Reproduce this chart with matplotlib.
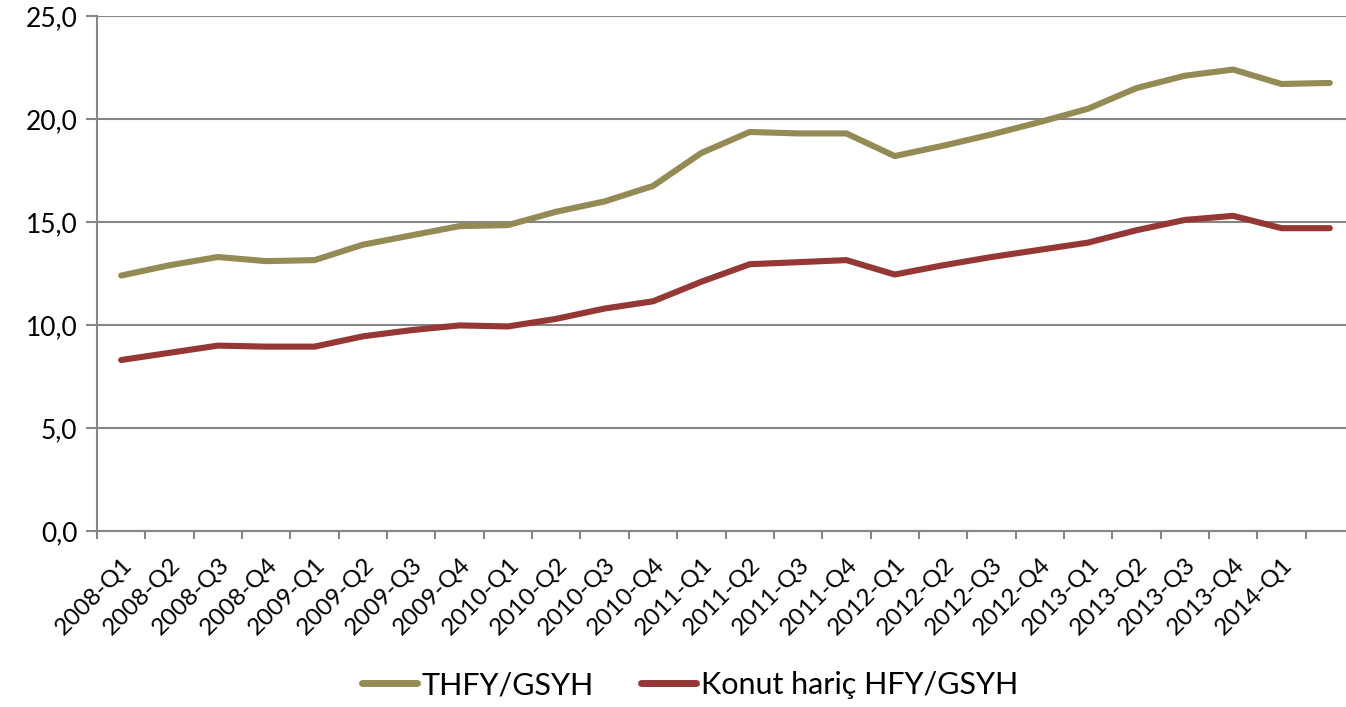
import matplotlib
matplotlib.use("Agg")
import matplotlib.pyplot as plt
import numpy as np

categories = ["2008-Q1", "2008-Q2", "2008-Q3", "2008-Q4",
              "2009-Q1", "2009-Q2", "2009-Q3", "2009-Q4",
              "2010-Q1", "2010-Q2", "2010-Q3", "2010-Q4",
              "2011-Q1", "2011-Q2", "2011-Q3", "2011-Q4",
              "2012-Q1", "2012-Q2", "2012-Q3", "2012-Q4",
              "2013-Q1", "2013-Q2", "2013-Q3", "2013-Q4",
              "2014-Q1", ""]

thfy = [12.4, 12.9, 13.3, 13.1, 13.15, 13.9, 14.35, 14.8, 14.85, 15.5, 16.0, 16.75,
        18.35, 19.37, 19.3, 19.3, 18.2, 18.7, 19.25, 19.85, 20.5, 21.5, 22.1, 22.4,
        21.7, 21.75]
konut = [8.3, 8.65, 9.0, 8.95, 8.95, 9.45, 9.75, 9.98, 9.93, 10.3, 10.8, 11.15,
         12.1, 12.95, 13.05, 13.15, 12.45, 12.9, 13.3, 13.65, 14.0, 14.6, 15.1, 15.3,
         14.7, 14.7]

series_names = ["THFY/GSYH", "Konut hariç HFY/GSYH"]
yticks = [0, 5, 10, 15, 20, 25]

plt.rcParams['font.family'] = ['Lato', 'DejaVu Sans']

W, H = 1346, 707
fig = plt.figure(figsize=(W / 100, H / 100), dpi=100)
ax = fig.add_axes([97 / W, (H - 531) / H, (1354 - 97) / W, (531 - 16) / H])

x = np.arange(len(categories))
ax.plot(x, thfy, color="#948A54", lw=4.4, solid_capstyle="round", solid_joinstyle="round",
        label=series_names[0], zorder=3)
ax.plot(x, konut, color="#953735", lw=4.4, solid_capstyle="round", solid_joinstyle="round",
        label=series_names[1], zorder=3)

ax.set_xlim(-0.5, len(categories) - 0.5)
ax.set_ylim(0, 25)
ax.set_yticks(yticks)
ax.set_yticklabels([f"{v:.1f}".replace(".", ",") for v in yticks], fontsize=19)
ax.yaxis.grid(True, color="#868686", lw=1.5)
ax.set_axisbelow(True)

ax.set_xticks(x)
ax.set_xticklabels(categories, rotation=45, ha="right", va="top",
                   rotation_mode="anchor", fontsize=17.5)
ax.tick_params(axis="x", which="major", length=0, pad=16)
ax.set_xticks(np.arange(-0.5, len(categories) + 0.5, 1), minor=True)
ax.tick_params(axis="x", which="minor", length=6, width=1.5, color="#868686", direction="out")
ax.tick_params(axis="y", length=8, width=1.5, color="#868686", direction="out", pad=6)

for s in ["top", "right"]:
    ax.spines[s].set_visible(False)
for s in ["left", "bottom"]:
    ax.spines[s].set_color("#868686")
    ax.spines[s].set_linewidth(1.5)

leg = fig.legend(loc="center", bbox_to_anchor=(690 / W, 1 - 685 / H), ncol=2, frameon=False,
                 fontsize=22, handlelength=1.8, handletextpad=0.15, columnspacing=1.55)
for line in leg.get_lines():
    line.set_linewidth(5)

fig.savefig("out.png", dpi=100)
